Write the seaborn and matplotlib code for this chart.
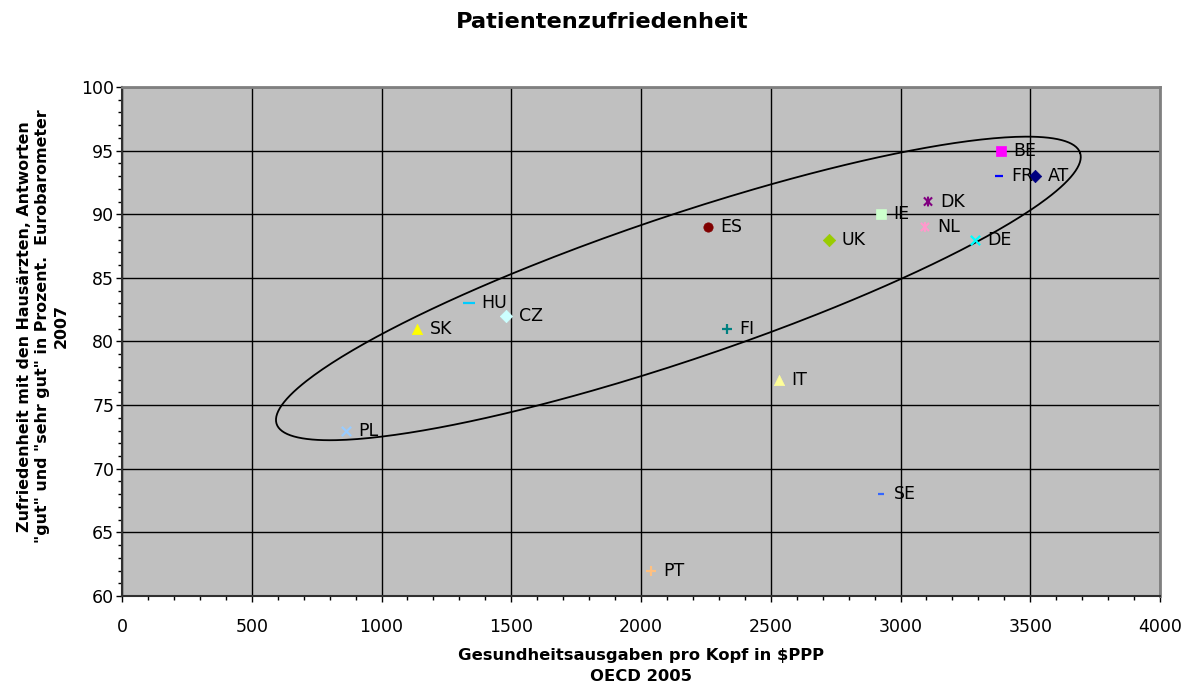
import numpy as np
import pandas as pd
import matplotlib
matplotlib.use("Agg")
import matplotlib.pyplot as plt
from matplotlib.path import Path
import seaborn as sns

countries = ["BE", "FR", "AT", "DK", "IE", "NL", "DE", "UK", "ES",
             "HU", "CZ", "SK", "FI", "IT", "PL", "SE", "PT"]
spending = [3387, 3380, 3518, 3106, 2925, 3094, 3287, 2724, 2258,
            1337, 1480, 1137, 2331, 2532, 863, 2925, 2039]
satisfaction = [95, 93, 93, 91, 90, 89, 88, 88, 89,
                83, 82, 81, 81, 77, 73, 68, 62]
colors = ["#FF00FF", "#0000FF", "#000080", "#800080", "#CCFFCC", "#FF99CC",
          "#00FFFF", "#99CC00", "#800000", "#00CCFF", "#CCFFFF", "#FFFF00",
          "#008080", "#FFFF99", "#99CCFF", "#3366FF", "#FFC080"]

# asterisk marker (x with a vertical bar)
asterisk = Path([(-1, -1), (1, 1), (-1, 1), (1, -1), (0, -1.2), (0, 1.2)],
                [Path.MOVETO, Path.LINETO, Path.MOVETO, Path.LINETO,
                 Path.MOVETO, Path.LINETO])
markers = ["s", "_", "D", asterisk, "s", asterisk, "x", "D", "o",
           "_", "D", "^", "+", "^", "x", "_", "+"]
sizes = [55, 35, 40, 50, 55, 50, 45, 40, 45, 70, 40, 55, 50, 55, 45, 25, 50]

x_ticks = [0, 500, 1000, 1500, 2000, 2500, 3000, 3500, 4000]
y_ticks = [60, 65, 70, 75, 80, 85, 90, 95, 100]

# ellipse annotation (centre in data units, semi-axes in pixels, angle in degrees)
ell_center = (2144, 84.17)
ell_axes_px = (424, 72)
ell_angle = 18.65

df = pd.DataFrame({"country": countries, "x": spending, "y": satisfaction})

sns.set_style("white")
plt.rcParams["font.family"] = ["DejaVu Sans"]
plt.rcParams["text.color"] = "black"
plt.rcParams["axes.labelcolor"] = "black"
plt.rcParams["xtick.color"] = "black"
plt.rcParams["ytick.color"] = "black"

fig = plt.figure(figsize=(11.88, 6.86), dpi=100)
ax = fig.add_axes([122 / 1188, 1 - 596 / 686, (1160 - 122) / 1188, (596 - 87) / 686])
ax.set_facecolor("#C0C0C0")

for i, row in df.iterrows():
    m = markers[i]
    if isinstance(m, Path):
        sns.scatterplot(data=df.iloc[[i]], x="x", y="y", ax=ax, marker=m,
                        facecolor="none", edgecolor=colors[i], s=sizes[i],
                        linewidth=1.5, legend=False, zorder=3)
    else:
        filled = matplotlib.markers.MarkerStyle(m).is_filled()
        kw = dict(edgecolor=colors[i]) if filled else {}
        sns.scatterplot(data=df.iloc[[i]], x="x", y="y", ax=ax, marker=m,
                        color=colors[i], s=sizes[i],
                        linewidth=1.6 if not filled else 0.5,
                        legend=False, zorder=3, **kw)
    ax.annotate(row["country"], (row["x"], row["y"]), xytext=(9, 0),
                textcoords="offset points", va="center", ha="left",
                fontsize=12.5, color="black", zorder=4)

ax.set_xlim(0, 4000)
ax.set_ylim(60, 100)
ax.set_xticks(x_ticks)
ax.set_yticks(y_ticks)
ax.set_xticks(np.arange(0, 4001, 100), minor=True)
ax.set_yticks(np.arange(60, 101, 1), minor=True)
ax.tick_params(axis="both", which="major", direction="out", length=4.5, width=1,
               color="black", labelsize=12.5)
ax.tick_params(axis="x", which="major", pad=11)
ax.tick_params(axis="y", which="major", pad=1)
ax.tick_params(axis="both", which="minor", direction="out", length=3, width=1,
               color="black")
ax.tick_params(bottom=True, left=True, which="both")
ax.grid(True, which="major", color="black", linewidth=1)
ax.set_axisbelow(True)
for s in ["top", "right"]:
    ax.spines[s].set_color("#808080")
    ax.spines[s].set_linewidth(2)
for s in ["left", "bottom"]:
    ax.spines[s].set_color("#303030")
    ax.spines[s].set_linewidth(1.5)

# ellipse
fig.canvas.draw()
bb = ax.get_window_extent()
sx = bb.width / 4000.0
sy = bb.height / 40.0
t = np.linspace(0, 2 * np.pi, 400)
th = np.deg2rad(ell_angle)
a, b = ell_axes_px
px = a * np.cos(t) * np.cos(th) - b * np.sin(t) * np.sin(th)
py = a * np.cos(t) * np.sin(th) + b * np.sin(t) * np.cos(th)
ax.plot(ell_center[0] + px / sx, ell_center[1] + py / sy, color="black",
        linewidth=1.3, zorder=2)

ax.set_xlabel("Gesundheitsausgaben pro Kopf in $PPP\nOECD 2005", fontsize=11.8,
              fontweight="bold", linespacing=1.45)
ax.xaxis.set_label_coords(0.5, -0.103)
ax.xaxis.label.set_va("top")
ax.set_ylabel("Zufriedenheit mit den Hausärzten, Antworten\n\"gut\" und \"sehr gut\" in Prozent.  Eurobarometer\n2007",
              fontsize=11.4, fontweight="bold", linespacing=1.3)
ax.yaxis.set_label_coords(-0.051, 0.53)
fig.suptitle("Patientenzufriedenheit", fontsize=16.2, fontweight="bold",
             x=0.507, y=0.983)

fig.savefig("out.png", dpi=100)
